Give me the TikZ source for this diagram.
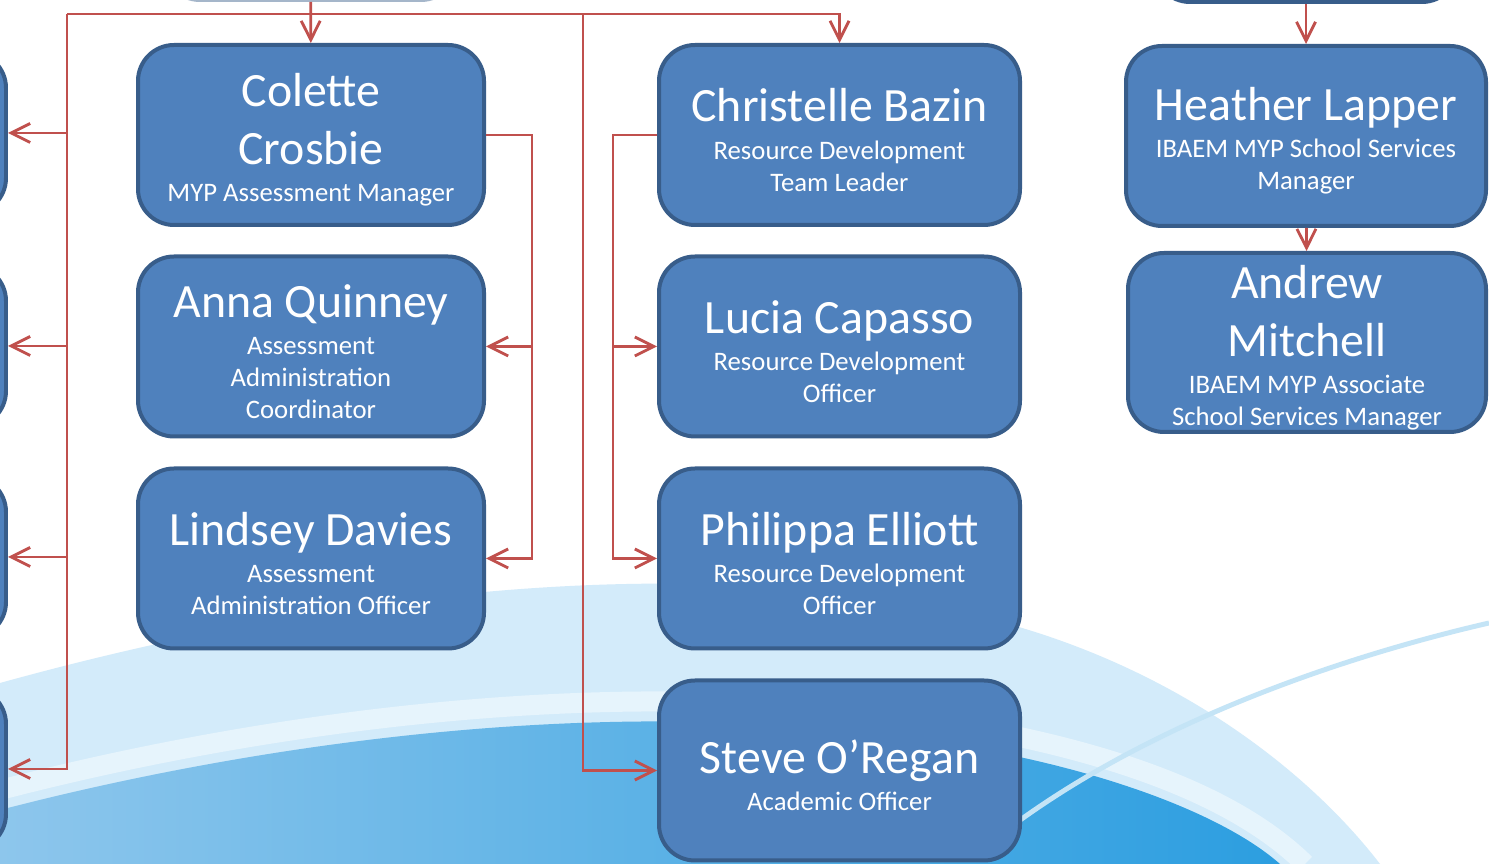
\documentclass[tikz,border=0pt]{standalone}
\usepackage{fontspec}
\setmainfont{Carlito}
\usetikzlibrary{arrows.meta}
\definecolor{boxfill}{HTML}{4F81BD}
\definecolor{boxedge}{HTML}{385D8A}
\definecolor{linkred}{HTML}{C0504D}
\definecolor{paleblue}{HTML}{D3EBFA}
\definecolor{skyleft}{HTML}{8DC6EC}
\definecolor{skyright}{HTML}{2C9EE0}
\definecolor{streak}{HTML}{C4E4F6}
\newcommand{\namesize}{\fontsize{13.6pt}{16.5pt}\selectfont}
\newcommand{\rolesize}{\fontsize{7.6pt}{9.1pt}\selectfont}
% name on top, job title below
\newcommand{\card}[2]{\parbox{3.3cm}{\vspace*{0.1cm}\centering\namesize #1\par\vspace{1.5pt}\rolesize #2\par}}

\begin{document}
\begin{tikzpicture}[
  person/.style={draw=boxedge, fill=boxfill, line width=0.04cm, rounded corners=0.36cm,
    minimum width=3.46cm, minimum height=1.8cm, inner sep=0pt, text=white},
  wide/.style={person, minimum width=3.61cm},
  ghost/.style={draw=boxedge, fill=boxfill, line width=0.04cm, rounded corners=0.36cm,
    minimum width=3cm, minimum height=1.62cm},
  link/.style={linkred, line width=0.8pt, -{Straight Barb[length=0.19cm,width=0.19cm]}},
  plain/.style={linkred, line width=0.8pt}
]
\useasboundingbox (0,0) rectangle (14.89,-8.64);
\clip (0,0) rectangle (14.89,-8.64);
\fill[white] (0,0) rectangle (14.89,-8.64);

% background swoosh
\fill[paleblue] (0,-6.83) .. controls (3.0,-6.0) and (6.5,-5.5) .. (9.5,-6.1)
  .. controls (11.5,-6.5) and (13.0,-7.6) .. (13.8,-8.64) -- (0,-8.64) -- cycle;
\draw[white, opacity=.45, line width=.2cm] (0,-7.9) .. controls (2.5,-7.25) and (6.5,-6.6) .. (10.1,-7.35)
  .. controls (11.3,-7.6) and (12.4,-8.0) .. (13.05,-8.64);
\shade[left color=skyleft, right color=skyright] (0,-8.1) .. controls (2.5,-7.45) and (6.5,-6.8) .. (10.1,-7.55)
  .. controls (11.3,-7.8) and (12.3,-8.2) .. (12.8,-8.64) -- (0,-8.64) -- cycle;
\draw[streak, line width=1.4pt] (14.89,-6.23) .. controls (13.5,-6.55) and (11.5,-7.2) .. (10.0,-8.35);

% boxes cut off by the edge
\node[ghost, draw=boxedge!45, fill=boxfill!40, minimum width=2.93cm, minimum height=1.5cm] (boss) at (3.105,0.75) {};
\node[ghost, minimum width=3.04cm, minimum height=1.5cm] (topR) at (13.06,0.73) {};
\node[ghost] (left1) at (-1.44,-1.33) {};
\node[ghost] (left2) at (-1.44,-3.46) {};
\node[ghost] (left3) at (-1.44,-5.57) {};
\node[ghost] (left4) at (-1.44,-7.69) {};

% people
\node[person] (colette) at (3.11,-1.35) {\card{Colette\\Crosbie}{MYP Assessment Manager}};
\node[person] (anna) at (3.11,-3.465) {\card{Anna Quinney}{Assessment\\Administration\\Coordinator}};
\node[person] (lindsey) at (3.11,-5.585) {\card{Lindsey Davies}{Assessment\\Administration Officer}};
\node[wide] (christelle) at (8.395,-1.35) {\card{Christelle Bazin}{Resource Development\\Team Leader}};
\node[wide] (lucia) at (8.395,-3.465) {\card{Lucia Capasso}{Resource Development\\Officer}};
\node[wide] (philippa) at (8.395,-5.585) {\card{Philippa Elliott}{Resource Development\\Officer}};
\node[wide] (steve) at (8.395,-7.705) {\card{Steve O’Regan}{Academic Officer}};
\node[wide, minimum width=3.6cm] (heather) at (13.06,-1.36) {\card{Heather Lapper}{IBAEM MYP School Services\\Manager}};
\node[wide, minimum width=3.58cm, minimum height=1.79cm] (andrew) at (13.07,-3.425) {\card{Andrew\\Mitchell}{IBAEM MYP Associate\\School Services Manager}};

% connectors
\coordinate (bar) at (0.67,-0.14);
\coordinate (fork) at (5.83,-0.14);
\draw[plain] (bar) -- (fork);
\draw[link] (boss) -- (colette);
\draw[link] (fork) -| (christelle);
\draw[link] (fork) |- (steve);
\foreach \n in {left1,left2,left3,left4}
  \draw[link] (bar) |- (\n.east);
\draw[link] (colette.east) -- ++(0.46,0) |- (anna.east);
\draw[link] (colette.east) -- ++(0.46,0) |- (lindsey.east);
\draw[link] (christelle.west) -- ++(-0.44,0) |- (lucia.west);
\draw[link] (christelle.west) -- ++(-0.44,0) |- (philippa.west);
\draw[link] (topR) -- (heather);
\draw[link] (heather) -- (andrew);
\end{tikzpicture}
\end{document}
